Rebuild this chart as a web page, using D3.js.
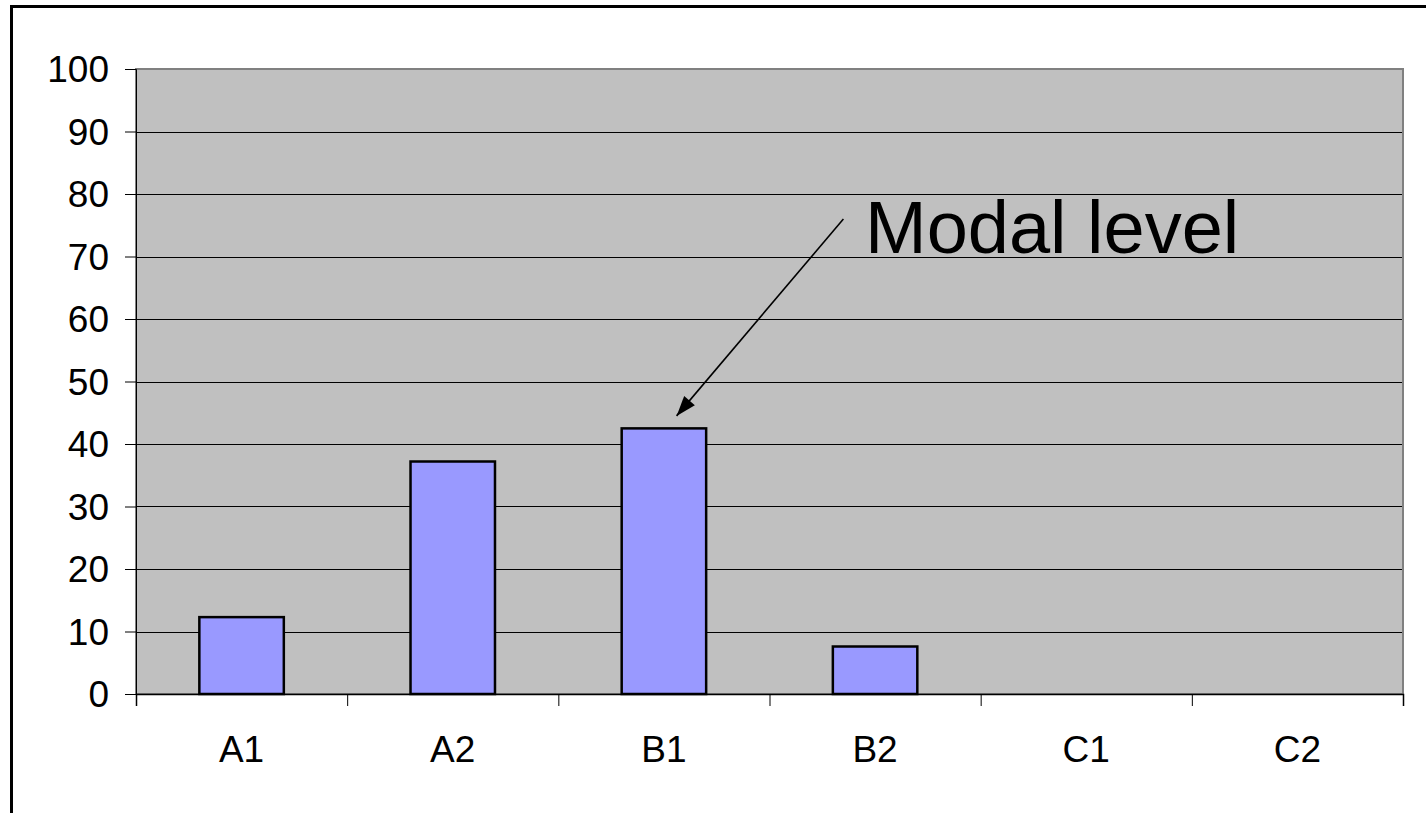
<!DOCTYPE html>
<html><head><meta charset="utf-8">
<script src="https://cdn.jsdelivr.net/npm/d3@7"></script>
<style>html,body{margin:0;padding:0;background:#fff;}svg{display:block;}</style>
</head><body>
<svg id="c" width="1426" height="813"></svg>
<script>
const categories = ["A1","A2","B1","B2","C1","C2"];
const values = [12.3, 37.2, 42.5, 7.6, 0, 0];
const yTicks = [0,10,20,30,40,50,60,70,80,90,100];
const annotationText = "Modal level";
// arrow: from (category index position, value) to (category index position, value)
const arrowFrom = [3.35, 76];
const arrowTo = [2.56, 44.5];

const svg = d3.select("#c");
const W = 1426, H = 813;
const L = 136, R = 1403, T = 69, B = 694;
const font = "Liberation Sans, Arial, sans-serif";

// outer frame
svg.append("rect").attr("x",11.5).attr("y",6.5).attr("width",W+10).attr("height",H+10)
  .attr("fill","none").attr("stroke","#000").attr("stroke-width",3);

const x = d3.scaleBand().domain(categories).range([L,R]).paddingInner(0.6).paddingOuter(0.3);
const xPos = d3.scaleLinear().domain([0,categories.length]).range([L,R]);
const y = d3.scaleLinear().domain([0,100]).range([B,T]);

svg.append("rect").attr("x",L).attr("y",T).attr("width",R-L).attr("height",B-T)
  .attr("fill","#C0C0C0");

// gridlines
svg.append("g").selectAll("line").data(yTicks.filter(d=>d>0)).join("line")
  .attr("x1",L).attr("x2",R).attr("y1",d=>Math.round(y(d))+0.5).attr("y2",d=>Math.round(y(d))+0.5)
  .attr("stroke","#000").attr("stroke-width",1);

// plot border
svg.append("rect").attr("x",L).attr("y",T).attr("width",R-L).attr("height",B-T)
  .attr("fill","none").attr("stroke","#808080").attr("stroke-width",2);

// bars
svg.append("g").selectAll("rect").data(values.map((v,i)=>({c:categories[i],v})).filter(d=>d.v>0)).join("rect")
  .attr("x",d=>x(d.c)).attr("y",d=>y(d.v)).attr("width",x.bandwidth()).attr("height",d=>y(0)-y(d.v))
  .attr("fill","#9999FF").attr("stroke","#000").attr("stroke-width",2.5);

// y axis
const yAxis = d3.axisLeft(y).tickValues(yTicks).tickSize(11).tickPadding(16);
const gy = svg.append("g").attr("transform",`translate(${L},0)`).call(yAxis);
gy.select(".domain").attr("stroke","#000").attr("stroke-width",1);
gy.selectAll(".tick line").attr("stroke","#000");
gy.selectAll("text").attr("font-family",font).attr("font-size",37).attr("fill","#000").attr("dy","0.35em");

// x axis
const xAxis = d3.axisBottom(xPos).tickValues(d3.range(categories.length+1)).tickSize(12).tickFormat("");
const gx = svg.append("g").attr("transform",`translate(0,${B})`).call(xAxis);
gx.select(".domain").attr("stroke","#000").attr("stroke-width",1.5);
gx.selectAll(".tick line").attr("stroke","#000");
svg.append("g").selectAll("text").data(categories).join("text")
  .attr("x",d=>x(d)+x.bandwidth()/2).attr("y",762)
  .attr("text-anchor","middle").attr("font-family",font).attr("font-size",37).attr("fill","#000")
  .text(d=>d);

// annotation arrow
svg.append("line")
  .attr("x1",xPos(arrowFrom[0])).attr("y1",y(arrowFrom[1]))
  .attr("x2",xPos(arrowTo[0])).attr("y2",y(arrowTo[1]))
  .attr("stroke","#000").attr("stroke-width",1.6);
(function(){
  const x1=xPos(arrowFrom[0]), y1=y(arrowFrom[1]), x2=xPos(arrowTo[0]), y2=y(arrowTo[1]);
  const a=Math.atan2(y2-y1,x2-x1), len=20, w=7;
  const bx=x2-len*Math.cos(a), by=y2-len*Math.sin(a);
  const px=-Math.sin(a)*w, py=Math.cos(a)*w;
  svg.append("path").attr("d",`M${x2},${y2} L${bx+px},${by+py} L${bx-px},${by-py} Z`).attr("fill","#000");
})();
svg.append("text").attr("x",865).attr("y",253).attr("font-family",font).attr("font-size",74)
  .attr("fill","#000").text(annotationText);
</script>
</body></html>
